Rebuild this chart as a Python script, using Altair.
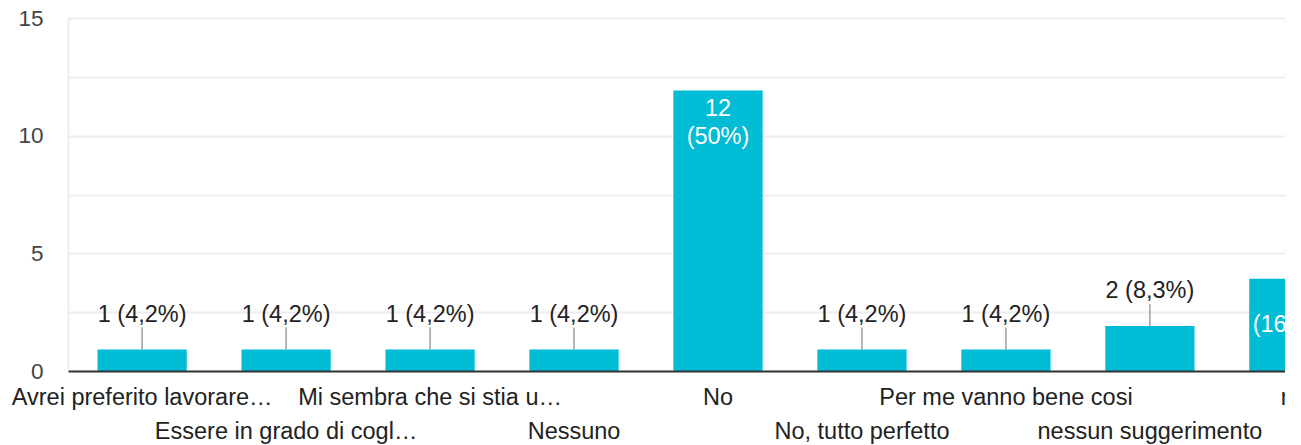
import altair as alt
import pandas as pd

categories = [
    "Avrei preferito lavorare…",
    "Essere in grado di cogl…",
    "Mi sembra che si stia u…",
    "Nessuno",
    "No",
    "No, tutto perfetto",
    "Per me vanno bene cosi",
    "nessun suggerimento",
    "no",
]
counts = [1, 1, 1, 1, 12, 1, 1, 2, 4]
y_ticks = [0, 2.5, 5, 7.5, 10, 12.5, 15]
second_row = categories[1::2]

total = sum(counts)


def fmt_pct(c):
    p = round(c / total * 100, 1)
    s = f"{p:.1f}".rstrip("0").rstrip(".").replace(".", ",")
    return s + "%"


df = pd.DataFrame({"cat": categories, "count": counts})
df["pct"] = [fmt_pct(c) for c in counts]
df["label_out"] = df["count"].astype(str) + " (" + df["pct"] + ")"
df["label_in"] = df["count"].astype(str) + "\n(" + df["pct"] + ")"

FONT = "Liberation Sans, Arial, sans-serif"
FS = 23.5
FS_Y = 22.5

row2_js = "[" + ",".join("'" + c.replace("'", "\\'") + "'" for c in second_row) + "]"

x_enc = alt.X(
    "cat:N",
    sort=categories,
    title=None,
    scale=alt.Scale(range=[0, 1300], paddingInner=0.38, paddingOuter=0.205),
    axis=alt.Axis(
        labelExpr=f"indexof({row2_js}, datum.value) >= 0 ? ['', datum.label] : datum.label",
        labelAngle=0,
        labelBaseline="top",
        labelLineHeight=34,
        labelPadding=14,
        labelLimit=0,
        labelOverlap=False,
        labelFont=FONT,
        labelFontSize=FS,
        labelColor="#222222",
        ticks=False,
        grid=False,
        domainColor="#333333",
        domainWidth=2,
        zindex=1,
    ),
)

y_enc = alt.Y(
    "count:Q",
    title=None,
    scale=alt.Scale(domain=[0, 15], nice=False),
    axis=alt.Axis(
        values=y_ticks,
        labelExpr="datum.value % 5 == 0 ? datum.label : ''",
        labelFont=FONT,
        labelFontSize=FS_Y,
        labelColor="#444444",
        labelPadding=25,
        ticks=False,
        grid=True,
        gridColor="#eeeeee",
        gridWidth=2,
        domain=True,
        domainColor="#eeeeee",
        domainWidth=2,
    ),
)

base = alt.Chart(df)

bars = base.mark_bar(color="#00BCD4", clip=True, yOffset=2).encode(x=x_enc, y=y_enc)

leaders = (
    base.transform_filter("datum.count < 3")
    .mark_rule(color="#9e9e9e", strokeWidth=1.5, yOffset=2, y2Offset=-20)
    .encode(x=x_enc, y=y_enc, y2="count:Q")
)

labels_out = (
    base.transform_filter("datum.count < 3")
    .mark_text(baseline="alphabetic", dy=-25.5, font=FONT, fontSize=FS, color="#222222")
    .encode(x=x_enc, y=y_enc, text="label_out:N")
)

labels_in = (
    base.transform_filter("datum.count >= 3")
    .mark_text(
        baseline="top",
        dy=8,
        lineBreak="\n",
        lineHeight=28,
        font=FONT,
        fontSize=FS,
        color="white",
        clip=True,
    )
    .encode(x=x_enc, y=y_enc, text="label_in:N")
)

chart = (
    alt.layer(bars, leaders, labels_out, labels_in)
    .properties(
        width=1217,
        height=353,
        padding={"left": 60, "top": 10, "right": 0, "bottom": 80},
        autosize=alt.AutoSizeParams(type="none"),
        background="white",
    )
    .configure_view(stroke=None)
)

chart.save("out.html", embed_options={"renderer": "svg", "actions": False})
